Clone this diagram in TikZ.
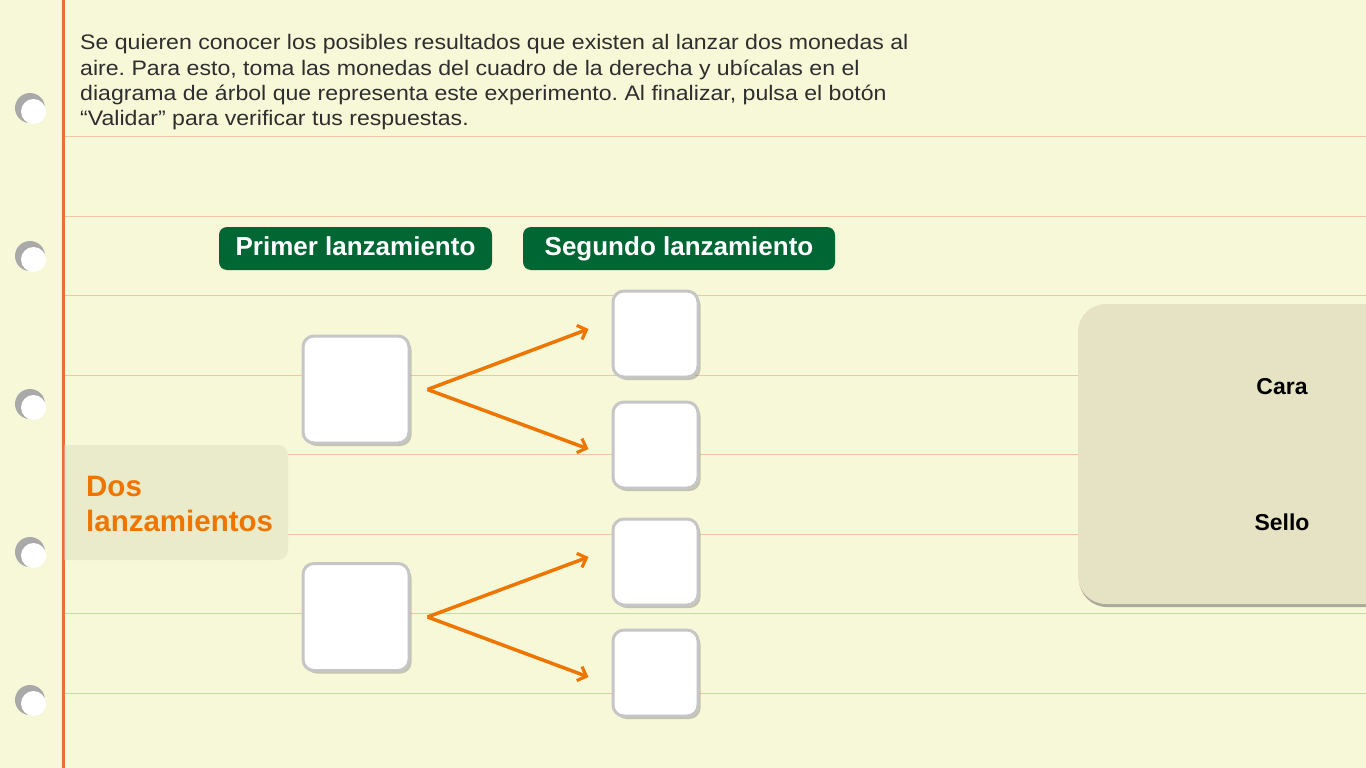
\documentclass[tikz,border=0pt]{standalone}
\usepackage{fontspec}
\setmainfont{Liberation Sans}
\newfontfamily\bodyfont[FakeStretch=1.1]{Liberation Sans}
\usetikzlibrary{arrows.meta,shadows}
\definecolor{bgc}{HTML}{F7F8D8}
\definecolor{rulec}{HTML}{F3C4A4}
\definecolor{marginc}{HTML}{E86E3A}
\definecolor{greenc}{HTML}{006633}
\definecolor{orangec}{HTML}{EE7600}
\definecolor{dosc}{HTML}{EAEBCB}
\definecolor{panelc}{HTML}{E6E3C5}
\definecolor{slotedge}{HTML}{C6C6C6}
\definecolor{textc}{HTML}{2E2E2E}
\definecolor{holegray}{HTML}{A9A9A9}
\frenchspacing
\begin{document}
\begin{tikzpicture}[x=1pt,y=-1pt,
  ruleline/.style={rulec,line width=1pt},
  bodytext/.style={anchor=base west,inner sep=0pt,text=textc,font=\bodyfont\fontsize{21}{25}\selectfont},
  header/.style={fill=greenc,rounded corners=8pt,text=white,font=\bfseries\fontsize{26}{30}\selectfont,
    minimum height=43pt,inner sep=0pt,text height=19pt,text depth=5pt},
  slot/.style={fill=white,draw=slotedge,line width=3pt,rounded corners=11pt,inner sep=0pt,
    drop shadow={shadow xshift=2.5pt,shadow yshift=-3pt,opacity=0.3,fill=black!70}},
  arr/.style={orangec,line width=3.5pt,-{Straight Barb[length=7.5pt,width=15pt,line width=3.2pt]}},
  coinlabel/.style={font=\bfseries\fontsize{23}{27}\selectfont,text=black,inner sep=0pt},
  dostext/.style={anchor=base west,inner sep=0pt,text=orangec,font=\bfseries\fontsize{29.5}{35}\selectfont}
]
\useasboundingbox (0,0) rectangle (1366,768);
\fill[bgc] (0,0) rectangle (1366,768);
% ruled lines
\foreach \yy in {136,216,295,375,454,534,613,693}
  \draw[ruleline] (64,\yy) -- (1366,\yy);
% left margin line
\draw[marginc,line width=3pt] (63,0) -- (63,768);
% holes
\foreach \yy in {110,258,406,554,702}{
  \fill[holegray] (30,\yy-2) circle (15pt);
  \fill[white] (33.5,\yy+1.5) circle (12.5pt);
}
% instructions
\node[bodytext] (t1) at (80,50) {Se quieren conocer los posibles resultados que existen al lanzar dos monedas al};
\node[bodytext] (t2) at (80,75) {aire. Para esto, toma las monedas del cuadro de la derecha y ubícalas en el};
\node[bodytext] (t3) at (80,100) {diagrama de árbol que representa este experimento. Al finalizar, pulsa el botón};
\node[bodytext] (t4) at (80,125) {“Validar” para verificar tus respuestas.};
% headers
\node[header,minimum width=273pt] (h1) at (355.5,248.5) {Primer lanzamiento};
\node[header,minimum width=312pt] (h2) at (679,248.5) {Segundo lanzamiento};
% Dos lanzamientos box
\begin{scope}
  \clip (64.5,0) rectangle (1366,768);
  \fill[dosc,rounded corners=10pt] (50,445) rectangle (288,560);
\end{scope}
\node[dostext] (d1) at (86,496) {Dos};
\node[dostext] (d2) at (86,531) {lanzamientos};
% slots
\node[slot,minimum width=106pt,minimum height=107pt] (a1) at (356,389.5) {};
\node[slot,minimum width=106pt,minimum height=107pt] (a2) at (356,617) {};
\node[slot,minimum width=85pt,minimum height=86pt] (b1) at (655.5,334) {};
\node[slot,minimum width=85pt,minimum height=86pt] (b2) at (655.5,445) {};
\node[slot,minimum width=85pt,minimum height=86pt] (b3) at (655.5,562) {};
\node[slot,minimum width=85pt,minimum height=86pt] (b4) at (655.5,673) {};
% arrows
\draw[arr] ([xshift=17pt]a1.east) -- ([xshift=-23pt,yshift=5pt]b1.west);
\draw[arr] ([xshift=17pt]a1.east) -- ([xshift=-23pt,yshift=-4pt]b2.west);
\draw[arr] ([xshift=17pt]a2.east) -- ([xshift=-23pt,yshift=5pt]b3.west);
\draw[arr] ([xshift=17pt]a2.east) -- ([xshift=-23pt,yshift=-4pt]b4.west);
% right panel
\begin{scope}
  \clip (0,0) rectangle (1366,768);
  \fill[panelc,rounded corners=28pt,drop shadow={shadow xshift=1pt,shadow yshift=-3pt,opacity=0.45,fill=black!70}] (1078,304) rectangle (1400,604);
\end{scope}
\node[coinlabel] (cara) at (1282,387) {Cara};
\node[coinlabel] (sello) at (1282,522) {Sello};
\end{tikzpicture}
\end{document}
